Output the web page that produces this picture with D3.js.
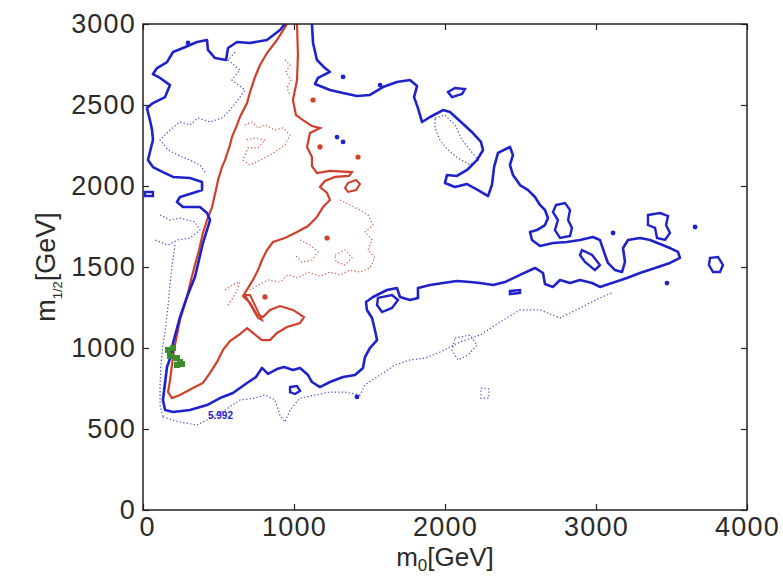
<!DOCTYPE html>
<html>
<head>
<meta charset="utf-8">
<script src="https://cdn.jsdelivr.net/npm/d3@7"></script>
<style>
  body { margin: 0; background: #fff; }
  svg text { font-family: "Liberation Sans", Arial, sans-serif; }
</style>
</head>
<body>
<div id="chart"></div>
<script>
// axis ticks
const m0Ticks = [0, 1000, 2000, 3000, 4000];
const m12Ticks = [0, 500, 1000, 1500, 2000, 2500, 3000];

// blue solid contour (m0, m1/2) in GeV
const blueMain = [[940,3000],[907,2963],[821,2901],[709,2883],[623,2889],[563,2852],[550,2778],[477,2790],[430,2840],[424,2901],[358,2889],[265,2852],[199,2827],[159,2765],[93,2728],[66,2691],[113,2667],[179,2623],[146,2549],[66,2512],[26,2481],[46,2407],[60,2346],[66,2284],[46,2210],[33,2160],[66,2117],[132,2086],[199,2056],[311,2049],[391,2025],[391,1975],[331,1957],[245,1932],[225,1901],[265,1870],[377,1870],[424,1833],[444,1790],[397,1648],[344,1438],[291,1315],[245,1191],[199,1031],[192,969],[159,883],[146,784],[132,679],[146,617],[199,605],[311,617],[424,648],[510,691],[596,722],[689,784],[748,821],[788,877],[828,840],[887,870],[934,883],[993,864],[1040,877],[1093,833],[1119,790],[1172,759],[1238,790],[1325,821],[1404,833],[1457,877],[1470,944],[1503,1000],[1550,1049],[1536,1111],[1517,1185],[1483,1235],[1477,1284],[1523,1315],[1616,1358],[1682,1370],[1702,1315],[1768,1296],[1821,1309],[1821,1370],[1901,1389],[1987,1401],[2079,1414],[2166,1407],[2232,1401],[2318,1389],[2397,1407],[2497,1451],[2596,1494],[2649,1463],[2662,1395],[2715,1377],[2762,1420],[2828,1401],[2894,1420],[2974,1401],[3026,1377],[3126,1407],[3205,1432],[3291,1463],[3391,1494],[3490,1525],[3556,1556],[3543,1593],[3490,1617],[3424,1642],[3358,1667],[3291,1679],[3212,1667],[3179,1617],[3192,1531],[3172,1469],[3126,1481],[3079,1525],[3053,1593],[3026,1667],[2980,1685],[2894,1667],[2808,1654],[2715,1648],[2629,1630],[2576,1667],[2563,1716],[2609,1728],[2662,1759],[2682,1802],[2662,1852],[2629,1883],[2596,1932],[2550,1975],[2497,2006],[2450,2068],[2430,2130],[2450,2191],[2430,2241],[2351,2204],[2325,2117],[2311,2006],[2285,1938],[2219,1975],[2146,2012],[2066,1994],[2000,2019],[2013,2068],[2079,2062],[2146,2099],[2212,2160],[2252,2222],[2238,2272],[2185,2327],[2113,2389],[2033,2457],[1987,2469],[1901,2426],[1848,2395],[1821,2481],[1795,2549],[1815,2617],[1768,2654],[1682,2642],[1589,2611],[1503,2562],[1417,2556],[1325,2574],[1238,2593],[1139,2630],[1159,2667],[1238,2704],[1205,2728],[1152,2778],[1126,2883],[1119,3000]];

// small closed blue islands
const blueIslands = [
  [[2735,1883],[2795,1895],[2828,1852],[2815,1790],[2841,1741],[2828,1692],[2762,1679],[2728,1728],[2748,1790],[2715,1839]],
  [[3344,1821],[3424,1833],[3477,1815],[3464,1759],[3490,1710],[3457,1667],[3404,1679],[3391,1741],[3344,1759]],
  [[3755,1556],[3808,1562],[3841,1512],[3821,1469],[3775,1469],[3748,1512]],
  [[2020,2580],[2066,2605],[2132,2599],[2113,2568],[2046,2549]],
  [[2907,1605],[2974,1574],[3026,1512],[2993,1481],[2927,1531],[2894,1574]],
  [[1556,1309],[1649,1327],[1689,1296],[1649,1247],[1583,1222],[1550,1265]],
  [[974,759],[1020,765],[1040,735],[1007,716],[974,728]],
  [[2430,1352],[2497,1358],[2497,1340],[2430,1333]],
  [[13,1963],[66,1963],[66,1938],[13,1938]]
];
const blueDots = [[298,2883],[1325,2673],[1570,2623],[1285,2302],[1325,2272],[3656,1747],[3470,1401],[1417,698],[3113,1710]];

// red solid contour
const redMain = [[954,3000],[887,2901],[821,2821],[775,2747],[742,2673],[709,2580],[689,2512],[642,2426],[623,2377],[589,2302],[576,2253],[543,2160],[523,2117],[497,2037],[483,1975],[457,1870],[424,1790],[397,1710],[371,1605],[344,1512],[318,1420],[291,1315],[265,1235],[245,1173],[225,1080],[205,988],[192,895],[179,802],[166,728],[192,691],[245,710],[331,753],[397,784],[444,846],[490,914],[530,988],[576,1043],[642,1086],[689,1123],[728,1093],[788,1049],[841,1049],[887,1093],[954,1130],[1040,1154],[1066,1191],[993,1235],[907,1259],[841,1235],[795,1191],[755,1204],[709,1278],[662,1321],[695,1370],[728,1420],[762,1481],[788,1543],[821,1605],[861,1654],[940,1679],[1020,1716],[1093,1753],[1152,1809],[1192,1870],[1238,1914],[1219,1957],[1172,1994],[1205,2031],[1272,2056],[1364,2062],[1384,2086],[1238,2093],[1152,2080],[1119,2123],[1119,2179],[1086,2241],[1106,2327],[1172,2358],[1119,2370],[1060,2407],[1013,2438],[993,2531],[1020,2654],[1026,2809],[1020,3000]];
const redIslands = [
  [[675,1327],[762,1185],[788,1173],[709,1327]],
  [[1358,2019],[1411,2037],[1437,2012],[1411,1975],[1358,1963],[1338,1988]]
];
const redDots = [[1126,2531],[1172,2241],[1424,2179],[1219,1679],[808,1315]];

// dotted contours
const redDotted = [
  [[940,2778],[974,2747],[947,2704],[980,2654],[954,2605],[974,2562]],
  [[675,2377],[722,2395],[762,2358],[808,2377],[874,2346],[927,2358],[974,2315],[940,2253],[894,2222],[841,2191],[775,2160],[709,2130],[662,2160],[695,2235],[762,2235],[808,2284],[742,2296],[675,2284]],
  [[1305,1914],[1371,1883],[1437,1852],[1490,1821],[1523,1759],[1470,1716],[1517,1667],[1490,1605],[1536,1556],[1503,1494],[1437,1469],[1371,1481],[1305,1451],[1238,1469],[1172,1444],[1093,1469],[1026,1432],[960,1451],[907,1407],[828,1420],[762,1389],[709,1358]],
  [[1272,1574],[1338,1605],[1384,1556],[1338,1512],[1278,1531],[1272,1574]],
  [[1040,1667],[1106,1636],[1159,1593],[1119,1543],[1053,1531],[1007,1574]],
  [[543,1358],[589,1389],[642,1407],[609,1327],[563,1265]]
];
const blueDotted = [
  [[609,2827],[563,2778],[642,2716],[589,2654],[675,2593],[629,2531],[576,2469],[523,2420],[444,2395],[364,2420],[311,2377],[245,2395],[179,2346],[113,2284],[166,2222],[232,2191],[311,2160],[377,2130],[411,2086]],
  [[113,1821],[179,1790],[245,1802],[344,1778],[377,1728],[311,1679],[232,1667],[166,1636],[79,1667]],
  [[212,1636],[192,1512],[179,1389],[166,1265],[152,1142],[132,1019],[119,895],[113,772],[113,648],[132,574]],
  [[132,574],[245,543],[358,525],[424,556],[543,617],[642,679],[742,691],[808,710],[874,679],[907,586],[940,543],[974,617],[1040,691],[1139,710],[1238,728],[1338,728],[1437,710],[1470,772],[1570,833],[1669,895],[1768,926],[1868,938],[1967,975],[2099,1037],[2232,1080],[2364,1160],[2497,1235],[2629,1235],[2762,1185],[2894,1247],[3026,1309],[3106,1340]],
  [[1934,2420],[2000,2438],[2066,2377],[2113,2284],[2166,2222],[2219,2160],[2166,2130],[2086,2173],[2020,2222],[1967,2284],[1934,2358],[1934,2420]],
  [[2238,753],[2291,747],[2291,691],[2238,691],[2238,753]],
  [[2066,1062],[2166,1080],[2212,1019],[2152,957],[2086,926],[2046,988],[2066,1062]]
];

// best-fit point markers (green)
const greenPts = [[166,988],[199,1000],[179,951],[225,938],[245,914],[225,895],[258,901]];

const contourLabel = { text: "5.992", m0: 430, m12: 560 };

const width = 783, height = 576;
const margin = { top: 24, right: 36, bottom: 66, left: 143 };

const svg = d3.select("#chart").append("svg")
  .attr("width", width)
  .attr("height", height);

const x = d3.scaleLinear().domain([0, 4000]).range([margin.left, width - margin.right]);
const y = d3.scaleLinear().domain([0, 3000]).range([height - margin.bottom, margin.top]);

svg.append("clipPath").attr("id", "plot")
  .append("rect")
  .attr("x", margin.left).attr("y", margin.top)
  .attr("width", width - margin.left - margin.right)
  .attr("height", height - margin.top - margin.bottom);

const line = d3.line().x(d => x(d[0])).y(d => y(d[1]));
const g = svg.append("g").attr("clip-path", "url(#plot)");

const blue = "#1f22c8", red = "#cf3f2b";

// dotted ones first
redDotted.forEach(p => g.append("path").attr("d", line(p))
  .attr("fill", "none").attr("stroke", "#d4604e").attr("stroke-width", 1.2)
  .attr("stroke-dasharray", "1.3,2.2"));
blueDotted.forEach(p => g.append("path").attr("d", line(p))
  .attr("fill", "none").attr("stroke", "#4a4ccc").attr("stroke-width", 1.2)
  .attr("stroke-dasharray", "1.3,2.2"));

g.append("path").attr("d", line(redMain))
  .attr("fill", "none").attr("stroke", red).attr("stroke-width", 2.2);
redIslands.forEach(p => g.append("path").attr("d", line(p) + "Z")
  .attr("fill", "none").attr("stroke", red).attr("stroke-width", 2));
g.selectAll(".rdot").data(redDots).enter().append("circle")
  .attr("cx", d => x(d[0])).attr("cy", d => y(d[1])).attr("r", 2.6).attr("fill", red);

g.append("path").attr("d", line(blueMain))
  .attr("fill", "none").attr("stroke", blue).attr("stroke-width", 2.6)
  .attr("stroke-linejoin", "round");
blueIslands.forEach(p => g.append("path").attr("d", line(p) + "Z")
  .attr("fill", "none").attr("stroke", blue).attr("stroke-width", 2.4));
g.selectAll(".bdot").data(blueDots).enter().append("circle")
  .attr("cx", d => x(d[0])).attr("cy", d => y(d[1])).attr("r", 2.4).attr("fill", blue);

g.selectAll(".gpt").data(greenPts).enter().append("rect")
  .attr("x", d => x(d[0]) - 3).attr("y", d => y(d[1]) - 3)
  .attr("width", 6).attr("height", 6).attr("fill", "#3a8f2a");

g.append("text")
  .attr("x", x(contourLabel.m0)).attr("y", y(contourLabel.m12))
  .attr("fill", blue).attr("font-size", 10).attr("font-weight", "bold")
  .text(contourLabel.text);

// axes, MATLAB style with inward ticks
const tickCol = "#222";
const fmt = d3.format("d");
const xb = svg.append("g").attr("transform", `translate(0,${height - margin.bottom})`)
  .call(d3.axisBottom(x).tickValues(m0Ticks).tickFormat(fmt).tickSize(-6).tickSizeOuter(0).tickPadding(7));
const yl = svg.append("g").attr("transform", `translate(${margin.left},0)`)
  .call(d3.axisLeft(y).tickValues(m12Ticks).tickFormat(fmt).tickSize(-6).tickSizeOuter(0).tickPadding(7));
svg.append("g").attr("transform", `translate(0,${margin.top})`)
  .call(d3.axisTop(x).tickValues(m0Ticks).tickSize(-6).tickSizeOuter(0).tickFormat(""));
svg.append("g").attr("transform", `translate(${width - margin.right},0)`)
  .call(d3.axisRight(y).tickValues(m12Ticks).tickSize(-6).tickSizeOuter(0).tickFormat(""));

svg.selectAll(".domain").remove();
svg.selectAll(".tick line").attr("stroke", tickCol).attr("stroke-width", 1.2);
[xb, yl].forEach(a => a.selectAll("text")
  .attr("font-size", 27).attr("fill", "#2a2a2a").attr("letter-spacing", 1.2));
xb.selectAll("text").filter(d => d === 0).attr("dx", 4);

svg.append("rect")
  .attr("x", margin.left).attr("y", margin.top)
  .attr("width", width - margin.left - margin.right)
  .attr("height", height - margin.top - margin.bottom)
  .attr("fill", "none").attr("stroke", tickCol).attr("stroke-width", 1.5);

// axis titles
const xt = svg.append("text")
  .attr("x", (margin.left + width - margin.right) / 2).attr("y", 566)
  .attr("text-anchor", "middle").attr("font-size", 26).attr("fill", "#2a2a2a");
xt.append("tspan").text("m");
xt.append("tspan").attr("font-size", 17).attr("dy", 5).text("0");
xt.append("tspan").attr("dy", -5).text("[GeV]");

const yt = svg.append("text")
  .attr("transform", "translate(55,267) rotate(-90)")
  .attr("text-anchor", "middle").attr("font-size", 27).attr("fill", "#2a2a2a");
yt.append("tspan").text("m");
yt.append("tspan").attr("font-size", 13).attr("dy", 7).text("1/2");
yt.append("tspan").attr("dy", -7).text("[GeV]");
</script>
</body>
</html>
